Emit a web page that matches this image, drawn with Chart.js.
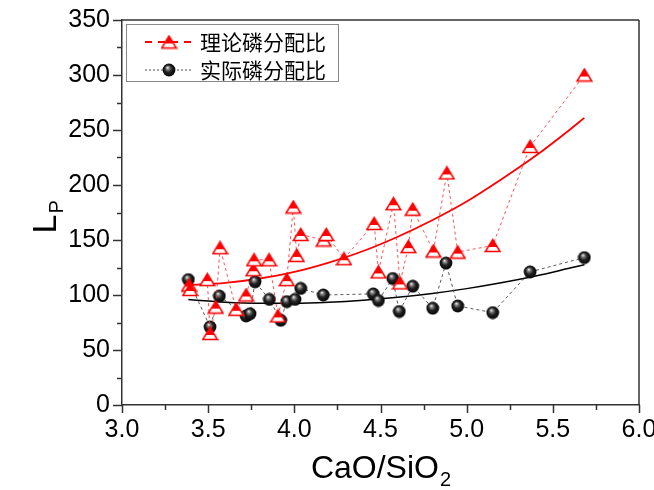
<!DOCTYPE html>
<html>
<head>
<meta charset="utf-8">
<script src="https://cdn.jsdelivr.net/npm/chart.js@4.4.1/dist/chart.umd.min.js"></script>
<style>
  html, body { margin: 0; padding: 0; background: #fff; }
  #c { display: block; }
</style>
</head>
<body>
<canvas id="c" width="654" height="490"></canvas>
<script>
// theoretical phosphorus partition ratio (red triangles)
const xTheory  = [3.389, 3.395, 3.495, 3.511, 3.544, 3.569, 3.662, 3.720, 3.762, 3.766, 3.853,
                  3.905, 3.956, 3.994, 4.014, 4.037, 4.170, 4.185, 4.288, 4.463, 4.488, 4.575,
                  4.613, 4.662, 4.687, 4.807, 4.885, 4.948, 5.151, 5.368, 5.683];
const lpTheory = [109, 105, 114, 65, 89, 143, 87, 100, 123, 132, 132,
                  81, 114, 180, 136, 155, 150, 155, 133, 165, 121, 183,
                  111, 144, 178, 140, 211, 139, 145, 235, 300];

// actual phosphorus partition ratio (black balls)
const xActual  = [3.385, 3.511, 3.565, 3.720, 3.743, 3.772, 3.855, 3.921, 3.956, 4.004, 4.037,
                  4.168, 4.458, 4.488, 4.571, 4.609, 4.687, 4.803, 4.880, 4.948, 5.151, 5.368, 5.683];
const lpActual = [114, 71, 99, 81, 83, 112, 96, 77, 94, 96, 106,
                  100, 101, 95, 115, 85, 108, 88, 129, 90, 84, 121, 134];

// fitted curves
const fitX       = [3.385, 3.6, 3.8, 4.0, 4.2, 4.4, 4.6, 4.8, 5.0, 5.2, 5.4, 5.6, 5.683];
const fitTheory  = [109, 111, 115, 121, 129.5, 140, 153, 168, 185, 205, 226.5, 250.5, 261];
const fitActual  = [96, 93.5, 92.6, 92.6, 93.5, 95.3, 97.9, 101.4, 105.8, 111.1, 117.3, 124.5, 127.5];

const legendLabels = ["理论磷分配比", "实际磷分配比"];
const xTitle = ["CaO/SiO", "2"];
const yTitle = ["L", "P"];

const RED = "#ff0000";
const AXIS = "#333333";
const SANS = '"Liberation Sans", Arial, sans-serif';

function pts(xs, ys) {
    return xs.map((x, i) => ({ x, y: ys[i] }));
}

// half filled triangle marker
function triangleMarker() {
    const c = document.createElement("canvas");
    c.width = 17; c.height = 15;
    const g = c.getContext("2d");
    g.beginPath();
    g.moveTo(8.5, 1.5); g.lineTo(15.8, 13.5); g.lineTo(1.2, 13.5); g.closePath();
    g.fillStyle = "#fff"; g.fill();
    g.save(); g.clip();
    g.fillStyle = RED; g.fillRect(0, 0, 17, 9);
    g.restore();
    g.strokeStyle = RED; g.lineWidth = 1.5; g.stroke();
    return c;
}

// glossy black ball marker
function ballMarker() {
    const c = document.createElement("canvas");
    c.width = 14; c.height = 14;
    const g = c.getContext("2d");
    const grad = g.createRadialGradient(5.5, 4.5, 0.3, 7, 7, 7);
    grad.addColorStop(0, "#f0f0f0");
    grad.addColorStop(0.18, "#888");
    grad.addColorStop(0.5, "#222");
    grad.addColorStop(1, "#000");
    g.beginPath(); g.arc(7, 7, 6.4, 0, Math.PI * 2);
    g.fillStyle = grad; g.fill();
    return c;
}

const TRI = triangleMarker();
const BALL = ballMarker();

const isMultiple = (v, step) => Math.abs(v / step - Math.round(v / step)) < 1e-6;

const framePlugin = {
    id: "frame",
    afterDraw(chart) {
        const { ctx, chartArea: a } = chart;
        const xs = chart.scales.x, ys = chart.scales.y;
        ctx.save();
        ctx.strokeStyle = AXIS;
        ctx.lineWidth = 1.5;
        ctx.beginPath();
        ctx.moveTo(a.left, a.top); ctx.lineTo(a.right, a.top);
        ctx.moveTo(a.right, a.top); ctx.lineTo(a.right, a.bottom);
        // bottom axis ticks
        for (const t of xs.ticks) {
            const px = Math.round(xs.getPixelForValue(t.value)) + 0.5;
            const len = isMultiple(t.value, 0.5) ? 8 : 5;
            ctx.moveTo(px, a.bottom); ctx.lineTo(px, a.bottom + len);
        }
        // left axis ticks
        for (const t of ys.ticks) {
            const py = Math.round(ys.getPixelForValue(t.value)) + 0.5;
            const len = isMultiple(t.value, 50) ? 9 : 5;
            ctx.moveTo(a.left, py); ctx.lineTo(a.left - len, py);
        }
        ctx.stroke();

        // x title with subscript
        ctx.fillStyle = "#000";
        ctx.textBaseline = "alphabetic";
        ctx.font = "32px " + SANS;
        const w1 = ctx.measureText(xTitle[0]).width;
        ctx.font = "20px " + SANS;
        const w2 = ctx.measureText(xTitle[1]).width;
        const sx = (a.left + a.right) / 2 - (w1 + w2) / 2;
        ctx.font = "32px " + SANS;
        ctx.fillText(xTitle[0], sx, 478);
        ctx.font = "20px " + SANS;
        ctx.fillText(xTitle[1], sx + w1 + 1, 486);

        // y title, rotated
        ctx.save();
        ctx.translate(44, 218);
        ctx.rotate(-Math.PI / 2);
        ctx.font = "34px " + SANS;
        const l1 = ctx.measureText(yTitle[0]).width;
        ctx.fillText(yTitle[0], -l1 / 2 - 6, 12);
        ctx.font = "20px " + SANS;
        ctx.fillText(yTitle[1], l1 / 2 - 5, 19);
        ctx.restore();

        // legend
        const bx = 126, by = 24, bw = 212, bh = 57;
        ctx.fillStyle = "#fff";
        ctx.fillRect(bx, by, bw, bh);
        ctx.strokeStyle = "#888";
        ctx.lineWidth = 1;
        ctx.strokeRect(bx + 0.5, by + 0.5, bw, bh);

        const rows = [
            { y: 42, color: RED, width: 2, dash: [7, 6], img: TRI, label: legendLabels[0] },
            { y: 70, color: "#555", width: 1, dash: [2, 2], img: BALL, label: legendLabels[1] }
        ];
        for (const r of rows) {
            ctx.beginPath();
            ctx.setLineDash(r.dash);
            ctx.strokeStyle = r.color;
            ctx.lineWidth = r.width;
            ctx.moveTo(145, r.y); ctx.lineTo(193, r.y);
            ctx.stroke();
            ctx.setLineDash([]);
            ctx.drawImage(r.img, 169 - r.img.width / 2, r.y - r.img.height / 2);
            ctx.fillStyle = "#000";
            ctx.font = '21px "Noto Sans CJK SC", sans-serif';
            ctx.textBaseline = "middle";
            ctx.fillText(r.label, 200, r.y);
        }
        ctx.restore();
    }
};

new Chart(document.getElementById("c"), {
    type: "scatter",
    data: {
        datasets: [
            {
                label: "theory",
                data: pts(xTheory, lpTheory),
                showLine: true,
                borderColor: "rgba(255,40,40,0.8)",
                borderWidth: 1,
                borderDash: [3, 3],
                pointStyle: TRI,
                pointRadius: 7,
                order: 1
            },
            {
                label: "actual",
                data: pts(xActual, lpActual),
                showLine: true,
                borderColor: "rgba(60,60,60,0.85)",
                borderWidth: 1,
                borderDash: [3, 3],
                pointStyle: BALL,
                pointRadius: 7,
                order: 2
            },
            {
                label: "fit theory",
                data: pts(fitX, fitTheory),
                showLine: true,
                borderColor: RED,
                borderWidth: 1.8,
                pointRadius: 0,
                cubicInterpolationMode: "monotone",
                order: 3
            },
            {
                label: "fit actual",
                data: pts(fitX, fitActual),
                showLine: true,
                borderColor: "#000",
                borderWidth: 1.5,
                pointRadius: 0,
                cubicInterpolationMode: "monotone",
                order: 4
            }
        ]
    },
    options: {
        responsive: false,
        animation: false,
        devicePixelRatio: 1,
        layout: { padding: { top: 20, right: 15, left: 0, bottom: 0 } },
        plugins: {
            legend: { display: false },
            tooltip: { enabled: false }
        },
        scales: {
            x: {
                type: "linear",
                min: 3, max: 6,
                afterFit: s => { s.height = 85; s.paddingLeft = 0; s.paddingRight = 0; },
                border: { display: true, color: AXIS, width: 1.5 },
                grid: { display: false, drawTicks: false },
                ticks: {
                    stepSize: 0.25,
                    padding: 10,
                    autoSkip: false,
                    maxRotation: 0,
                    color: "#000",
                    font: { family: SANS, size: 25 },
                    callback: v => isMultiple(v, 0.5) ? v.toFixed(1) : ""
                }
            },
            y: {
                type: "linear",
                min: 0, max: 350,
                afterFit: s => { s.width = 122; s.paddingTop = 0; s.paddingBottom = 0; },
                border: { display: true, color: AXIS, width: 1.5 },
                grid: { display: false, drawTicks: false },
                ticks: {
                    stepSize: 25,
                    padding: 12,
                    autoSkip: false,
                    color: "#000",
                    font: { family: SANS, size: 25 },
                    callback: v => isMultiple(v, 50) ? String(v) : ""
                }
            }
        }
    },
    plugins: [framePlugin]
});
</script>
</body>
</html>
